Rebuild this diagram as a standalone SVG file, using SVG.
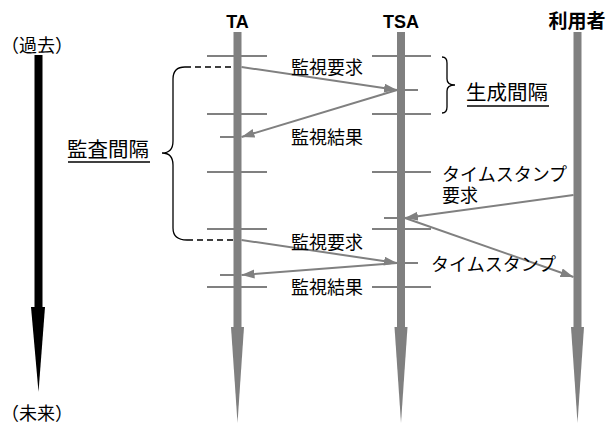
<svg xmlns="http://www.w3.org/2000/svg" width="610" height="423" viewBox="0 0 610 423">
<defs>
<style>
.t{font-family:"Noto Sans CJK JP","Liberation Sans",sans-serif;fill:#000}
.h{font-family:"Liberation Sans","Noto Sans CJK JP",sans-serif;font-weight:bold;font-size:18px;text-anchor:middle}
.lab{font-size:18px}
.big{font-size:20.5px}
.life{fill:#808080}
.tick{stroke:#808080;stroke-width:2;fill:none}
.msg{stroke:#808080;stroke-width:2;fill:none;marker-end:url(#ah)}
.br{stroke:#000;stroke-width:1.3;fill:none}
.dash{stroke:#000;stroke-width:1.3;stroke-dasharray:6 4;fill:none}
.ul{stroke:#000;stroke-width:1.3}
</style>
<marker id="ah" markerUnits="userSpaceOnUse" markerWidth="14" markerHeight="10" refX="13" refY="4.5" orient="auto">
<path d="M0,0 L13,4.5 L0,9 z" fill="#808080"/>
</marker>
</defs>
<g id="time-axis">
<rect x="34.5" y="55" width="8" height="253" fill="#000"/>
<polygon points="31,307 45,307 38.5,392" fill="#000"/>
<text class="t lab" x="37" y="52" text-anchor="middle">（過去）</text>
<text class="t lab" x="37" y="420" text-anchor="middle">（未来）</text>
</g>
<g id="TA">
<text class="t h" x="237.5" y="28">TA</text>
<rect class="life" x="233.5" y="32" width="8" height="296"/>
<polygon class="life" points="231,327 244,327 237.5,423"/>
<path class="tick" d="M207,56H267M207,114H267M207,172H267M207,229H267M207,287H267M220,137H237M220,275H237"/>
</g>
<g id="TSA">
<text class="t h" x="401" y="28">TSA</text>
<rect class="life" x="397" y="32" width="8" height="296"/>
<polygon class="life" points="394.5,327 407.5,327 401,423"/>
<path class="tick" d="M372,56H431M372,114H431M372,172H431M372,229H431M372,287H431M401,90H418M384,218H401M401,263H418"/>
</g>
<g id="user">
<text class="t h" x="577" y="28" style="font-size:19px">利用者</text>
<rect class="life" x="573.5" y="32" width="8" height="296"/>
<polygon class="life" points="571,327 584,327 577.5,423"/>
</g>
<g id="audit-interval">
<path class="br" d="M185,67 Q173,67 173,79 L173,141 Q173,153 162,153 Q173,153 173,165 L173,228 Q173,240 187,240"/>
<path class="dash" d="M185,67H233M187,240H233"/>
<text class="t big" x="67" y="157">監査間隔</text>
<line class="ul" x1="68" y1="162" x2="150" y2="162"/>
</g>
<g id="generation-interval">
<path class="br" d="M442,57 Q447,57 447,63 L447,79 Q447,85 455,85 Q447,85 447,91 L447,107 Q447,113 442,113"/>
<text class="t big" x="466" y="100">生成間隔</text>
<line class="ul" x1="467" y1="106" x2="549" y2="106"/>
</g>
<g id="connectors">
<path class="msg" d="M241.5,67 L397,90"/>
<path class="msg" d="M397,90 L241.5,137"/>
<path class="msg" d="M573.5,195 L405,218"/>
<path class="msg" d="M405,218 L573.5,277"/>
<path class="msg" d="M241.5,240 L397,263"/>
<path class="msg" d="M397,263 L241.5,275"/>
</g>
<g id="labels">
<text class="t lab" x="327" y="74" text-anchor="middle">監視要求</text>
<text class="t lab" x="327" y="143.5" text-anchor="middle">監視結果</text>
<text class="t lab" x="327" y="249" text-anchor="middle">監視要求</text>
<text class="t lab" x="327" y="294" text-anchor="middle">監視結果</text>
<text class="t lab" x="442" y="181">タイムスタンプ</text>
<text class="t lab" x="442" y="201.5">要求</text>
<text class="t lab" x="431" y="271">タイムスタンプ</text>
</g>
</svg>
